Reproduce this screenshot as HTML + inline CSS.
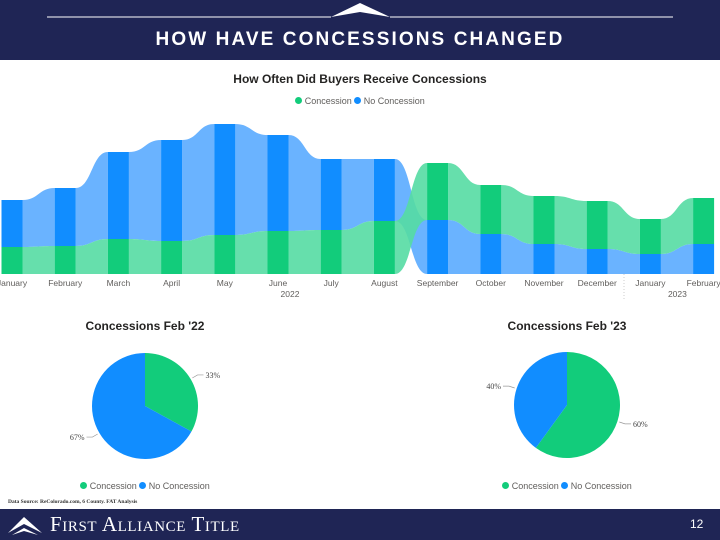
<!DOCTYPE html>
<html><head><meta charset="utf-8"><style>
body{margin:0;width:720px;height:540px;overflow:hidden;background:#fff;font-family:"Liberation Sans",sans-serif;position:relative}
.abs{position:absolute}
</style></head><body>
<div class="abs" style="left:0;top:0;width:720px;height:60px;background:#1f2555"></div>
<svg class="abs" style="left:0;top:0" width="720" height="60">
<line x1="47" y1="17" x2="331" y2="17" stroke="#fff" stroke-width="1"/>
<line x1="390" y1="17" x2="673" y2="17" stroke="#fff" stroke-width="1"/>
<polygon points="331,17 360,3 390,17 360,12" fill="#fff"/>
</svg>
<div class="abs" style="left:0;top:29px;width:720px;text-align:center;color:#fff;font-weight:bold;font-size:19px;letter-spacing:2.1px">HOW HAVE CONCESSIONS CHANGED</div>

<div class="abs" style="left:0;top:72px;width:720px;text-align:center;font-weight:bold;font-size:12px;color:#252423">How Often Did Buyers Receive Concessions</div>
<div class="abs" style="left:0;top:96px;width:720px;text-align:center;font-size:9px;color:#605e5c">
<span style="display:inline-block;width:7px;height:7px;border-radius:50%;background:#12cc7b"></span> Concession <span style="display:inline-block;width:7px;height:7px;border-radius:50%;background:#118dff"></span> No Concession</div>

<svg id="rib" class="abs" style="left:0;top:0" width="720" height="310"></svg>

<div class="abs" style="left:45px;top:319px;width:200px;text-align:center;font-weight:bold;font-size:12px;color:#252423">Concessions Feb '22</div>
<div class="abs" style="left:467px;top:319px;width:200px;text-align:center;font-weight:bold;font-size:12px;color:#252423">Concessions Feb '23</div>
<svg id="pies" class="abs" style="left:0;top:330px" width="720" height="150"></svg>
<div class="abs" style="left:45px;top:481px;width:200px;text-align:center;font-size:9px;color:#605e5c">
<span style="display:inline-block;width:7px;height:7px;border-radius:50%;background:#12cc7b"></span> Concession <span style="display:inline-block;width:7px;height:7px;border-radius:50%;background:#118dff"></span> No Concession</div>
<div class="abs" style="left:467px;top:481px;width:200px;text-align:center;font-size:9px;color:#605e5c">
<span style="display:inline-block;width:7px;height:7px;border-radius:50%;background:#12cc7b"></span> Concession <span style="display:inline-block;width:7px;height:7px;border-radius:50%;background:#118dff"></span> No Concession</div>

<div class="abs" style="left:8px;top:499px;font-family:'Liberation Serif',serif;font-size:5.5px;font-weight:bold;color:#333">Data Source: ReColorado.com, 6 County.  FAT Analysis</div>
<div class="abs" style="left:0;top:509px;width:720px;height:31px;background:#1f2555"></div>
<svg class="abs" style="left:6px;top:513px" width="40" height="24"><polygon points="2,20 18,4 36,20 18,11" fill="#fff"/><polygon points="6,22 18,15 32,22 18,18" fill="#fff"/></svg>
<div class="abs" style="left:50px;top:512px;color:#fff;font-family:'Liberation Serif',serif;font-size:21px;font-variant:small-caps;letter-spacing:0.6px">First Alliance Title</div>
<div class="abs" style="left:690px;top:517px;color:#fff;font-size:12px">12</div>

<script>
const months=["January","February","March","April","May","June","July","August","September","October","November","December","January","February"];
const concession=[27,28,35,33,39,43,44,53,57,49,48,48,35,46];
const noConcession=[47,58,87,101,111,96,71,62,54,40,30,25,20,30];
const years=["2022","2023"];
const pie1=[33,67];
const pie2=[60,40];
const NS="http://www.w3.org/2000/svg";
function mk(p,t,a){const e=document.createElementNS(NS,t);for(const k in a)e.setAttribute(k,a[k]);p.appendChild(e);return e;}
const svg=document.getElementById('rib');
const base=274,bw=21;
const xc=i=>12+i*53.2;
function stack(i){const c=concession[i],n=noConcession[i];
 if(c>=n) return {c:[base-n-c,base-n],n:[base-n,base]};
 return {n:[base-n-c,base-c],c:[base-c,base]};}
const col={c:["#55dba3","#12cc7b"],n:["#5aabff","#118dff"]};
for(let i=0;i<months.length-1;i++){
 const a=stack(i),b=stack(i+1);const x0=xc(i)+bw/2,x1=xc(i+1)-bw/2,m=(x0+x1)/2;
 ['n','c'].forEach(s=>{
  const d=`M${x0},${a[s][0]} C${m},${a[s][0]} ${m},${b[s][0]} ${x1},${b[s][0]} L${x1},${b[s][1]} C${m},${b[s][1]} ${m},${a[s][1]} ${x0},${a[s][1]} Z`;
  const p=mk(svg,'path',{d:d,fill:col[s][0],'fill-opacity':0.9});
  
  
 });
}
months.forEach((m,i)=>{const st=stack(i);
 ['c','n'].forEach(s=>{const r=mk(svg,'rect',{x:xc(i)-bw/2,y:st[s][0],width:bw,height:st[s][1]-st[s][0],fill:col[s][1]});
  
  });
 const t=mk(svg,'text',{x:xc(i),y:286,'text-anchor':'middle','font-size':8.5,fill:'#605e5c'});t.textContent=m;
 
 
});
[[xc(5)+12,years[0]],[xc(12)+27,years[1]]].forEach(([x,y])=>{const t=mk(svg,'text',{x:x,y:297,'text-anchor':'middle','font-size':8.5,fill:'#605e5c'});t.textContent=y;
 
 });
mk(svg,'line',{x1:624,y1:274,x2:624,y2:300,stroke:'#ccc','stroke-dasharray':'1,2'});

const ps=document.getElementById('pies');
function pie(cx,cy,r,vals){
 const tot=vals[0]+vals[1];let a0=-Math.PI/2;const cols=["#12cc7b","#118dff"];
 vals.forEach((v,k)=>{const a1=a0+v/tot*2*Math.PI;const lg=(a1-a0)>Math.PI?1:0;
  const d=`M${cx},${cy} L${cx+r*Math.cos(a0)},${cy+r*Math.sin(a0)} A${r},${r} 0 ${lg} 1 ${cx+r*Math.cos(a1)},${cy+r*Math.sin(a1)} Z`;
  const p=mk(ps,'path',{d:d,fill:cols[k]});
  
  
  const am=(a0+a1)/2,ex=cx+(r+2)*Math.cos(am),ey=cy+(r+2)*Math.sin(am),lx=cx+(r+8)*Math.cos(am),ly=cy+(r+8)*Math.sin(am);
  const right=Math.cos(am)>=0;const hx=lx+(right?6:-6);
  mk(ps,'polyline',{points:`${ex},${ey} ${lx},${ly} ${hx},${ly}`,fill:'none',stroke:'#999','stroke-width':0.7});
  const t=mk(ps,'text',{x:hx+(right?2:-2),y:ly+3,'text-anchor':right?'start':'end','font-size':8,'font-family':'Liberation Serif,serif',fill:'#444'});
  t.textContent=Math.round(v/tot*100)+'%';
  
  
  a0=a1;});
}
pie(145,76,53,pie1);
pie(567,75,53,pie2);
</script>
</body></html>
